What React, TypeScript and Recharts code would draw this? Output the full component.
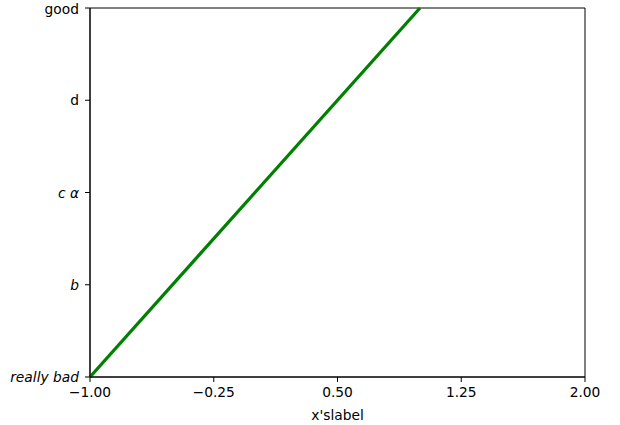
import { LineChart, Line, XAxis, YAxis, ReferenceArea } from "recharts";

const xValues = [-1, 1];
const yValues = [0, 4];
const xTicks = [-1, -0.25, 0.5, 1.25, 2];
const yTicks = [0, 1, 2, 3, 4];
const yTickLabels = ["really bad", "b", "c α", "d", "good"];
const yTickItalic = [true, true, true, false, false];

const data = xValues.map((x, i) => ({ x, y: yValues[i] }));

const FONT = "'DejaVu Sans', sans-serif";

const fmtX = (v: number) => (v < 0 ? "\u2212" + Math.abs(v).toFixed(2) : v.toFixed(2));

function YTick(props: any) {
  const { x, y, payload } = props;
  const i = yTicks.indexOf(payload.value);
  return (
    <text
      x={x - 3}
      y={y}
      textAnchor="end"
      dominantBaseline="central"
      fontFamily={FONT}
      fontSize={13.8}
      fontStyle={yTickItalic[i] ? "italic" : "normal"}
      fill="#000"
    >
      {yTickLabels[i]}
    </text>
  );
}

export default function App() {
  return (
    <div style={{ position: "fixed", top: 0, left: 0, width: 620, height: 425, background: "#fff" }}>
      <LineChart
        width={620}
        height={425}
        data={data}
        margin={{ top: 8, right: 35, bottom: 0, left: 0 }}
      >
        <XAxis
          dataKey="x"
          type="number"
          domain={[-1, 2]}
          ticks={xTicks}
          tickFormatter={fmtX}
          height={48}
          tickSize={5}
          tickMargin={5}
          stroke="#000"
          tick={{ fill: "#000", fontFamily: FONT, fontSize: 13.8 }}
          tickLine={{ stroke: "#000" }}
          axisLine={{ stroke: "#000" }}
          label={{
            value: "x'slabel",
            position: "insideBottom",
            offset: 5,
            fill: "#000",
            fontFamily: FONT,
            fontSize: 13.8,
          }}
        />
        <YAxis
          type="number"
          domain={[0, 4]}
          ticks={yTicks}
          width={90}
          tickSize={5}
          tickMargin={3}
          tick={<YTick />}
          tickLine={{ stroke: "#000" }}
          axisLine={{ stroke: "#000" }}
        />
        <Line
          dataKey="y"
          stroke="#008000"
          strokeWidth={3.3}
          dot={false}
          isAnimationActive={false}
        />
        <ReferenceArea
          x1={-1}
          x2={2}
          y1={0}
          y2={4}
          fill="none"
          fillOpacity={0}
          stroke="#000"
          strokeOpacity={1}
          strokeWidth={1}
        />
      </LineChart>
    </div>
  );
}
